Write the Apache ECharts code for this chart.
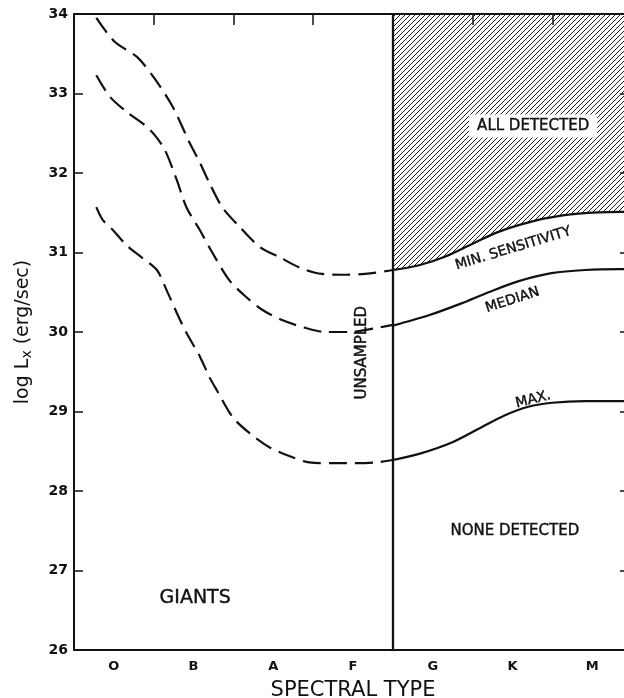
<!DOCTYPE html>
<html>
<head>
<meta charset="utf-8">
<script src="https://cdn.jsdelivr.net/npm/echarts@6/dist/echarts.min.js"></script>
<style>
  html, body { margin: 0; padding: 0; background: #fff; overflow: hidden; }
  #chart { width: 640px; height: 698px; }
</style>
</head>
<body>
<div id="chart"></div>
<script>
// Spectral classes along the bottom axis
const spectralTypes = ['O', 'B', 'A', 'F', 'G', 'K', 'M'];

// log Lx range and step (erg/sec)
const logLxMin = 26;
const logLxMax = 34;
const logLxStep = 1;

// Curves as [spectral position, log Lx]; position 0..7 spans O..M
// Giants (O–F): dashed, up to the G boundary
const minSensGiants = [
  [0.28, 33.95], [0.51, 33.65], [0.79, 33.46], [1.01, 33.19], [1.24, 32.83],
  [1.45, 32.38], [1.58, 32.13], [1.70, 31.87], [1.86, 31.57], [2.08, 31.32],
  [2.33, 31.07], [2.58, 30.94], [2.83, 30.81], [3.11, 30.73], [3.41, 30.72],
  [3.74, 30.74], [4.00, 30.78]
];
const medianGiants = [
  [0.28, 33.23], [0.45, 32.96], [0.66, 32.77], [0.89, 32.60], [1.01, 32.48],
  [1.14, 32.29], [1.29, 31.91], [1.41, 31.57], [1.58, 31.28], [1.74, 30.99],
  [1.95, 30.65], [2.16, 30.44], [2.36, 30.28], [2.61, 30.15], [2.91, 30.05],
  [3.16, 30.00], [3.45, 30.00], [3.79, 30.05], [4.00, 30.09]
];
const maxGiants = [
  [0.28, 31.57], [0.36, 31.41], [0.49, 31.28], [0.66, 31.09], [0.86, 30.93],
  [1.04, 30.78], [1.16, 30.53], [1.29, 30.24], [1.41, 29.99], [1.58, 29.69],
  [1.70, 29.43], [1.79, 29.27], [1.99, 28.93], [2.20, 28.73], [2.45, 28.55],
  [2.70, 28.44], [2.95, 28.36], [3.24, 28.35], [3.54, 28.35], [3.79, 28.36],
  [4.00, 28.39]
];
// G–M: solid
const minSensGKM = [
  [4.00, 30.78], [4.33, 30.84], [4.66, 30.95], [5.00, 31.11], [5.30, 31.25],
  [5.60, 31.35], [5.91, 31.43], [6.33, 31.49], [6.86, 31.51], [7.00, 31.51]
];
const medianGKM = [
  [4.00, 30.08], [4.45, 30.21], [4.86, 30.36], [5.20, 30.50], [5.58, 30.64],
  [5.99, 30.74], [6.41, 30.78], [6.86, 30.79], [7.00, 30.79]
];
const maxGKM = [
  [4.00, 28.39], [4.34, 28.47], [4.74, 28.61], [5.09, 28.79], [5.40, 28.95],
  [5.70, 29.06], [6.00, 29.11], [6.41, 29.13], [6.86, 29.13], [7.00, 29.13]
];
// Boundary between unsampled giants and the sampled G–M range
const sampledFrom = 4;

const ink = '#111';
const font = 'DejaVu Sans';

// Diagonal hatching for the "all detected" region
function hatchPattern() {
  const s = 5;
  const c = document.createElement('canvas');
  c.width = s; c.height = s;
  const g = c.getContext('2d');
  g.strokeStyle = '#1c1c1c';
  g.lineWidth = 1;
  g.beginPath();
  g.moveTo(0, s); g.lineTo(s, 0);
  g.moveTo(-1, 1); g.lineTo(1, -1);
  g.moveTo(s - 1, s + 1); g.lineTo(s + 1, s - 1);
  g.stroke();
  return c;
}

function curve(data, dashed, extra) {
  return Object.assign({
    type: 'line',
    xAxisIndex: 1,
    yAxisIndex: 0,
    data: data,
    smooth: 0.3,
    showSymbol: false,
    silent: true,
    lineStyle: { color: ink, width: 2.2, type: dashed ? [18, 8] : 'solid' },
    z: 5
  }, extra || {});
}

// Text annotations, placed in data coordinates
const notes = [
  { text: 'ALL DETECTED', at: [5.76, 32.59], rotate: 0, size: 15, box: true },
  { text: 'MIN. SENSITIVITY', at: [5.51, 31.05], rotate: 17, size: 14 },
  { text: 'MEDIAN', at: [5.50, 30.40], rotate: 18, size: 14 },
  { text: 'MAX.', at: [5.76, 29.15], rotate: 14, size: 14 },
  { text: 'UNSAMPLED', at: [3.61, 29.74], rotate: 90, size: 15 },
  { text: 'NONE DETECTED', at: [5.53, 27.50], rotate: 0, size: 15 },
  { text: 'GIANTS', at: [1.52, 26.65], rotate: 0, size: 19 }
];

const chart = echarts.init(document.getElementById('chart'), null, { renderer: 'canvas' });

const option = {
  animation: false,
  backgroundColor: '#fff',
  grid: { left: 74, right: 8, top: 14, bottom: 48, containLabel: false, outerBoundsMode: 'none' },
  xAxis: [
    {
      type: 'category',
      data: spectralTypes,
      position: 'bottom',
      boundaryGap: true,
      axisLine: { lineStyle: { color: ink, width: 2 } },
      axisTick: { inside: true, length: 11, lineStyle: { color: ink, width: 1.5 } },
      axisLabel: { margin: 10, fontFamily: font, fontWeight: 'bold', fontSize: 13, color: ink },
      splitLine: { show: false },
      name: 'SPECTRAL TYPE',
      nameLocation: 'middle',
      nameGap: 30,
      nameTextStyle: { fontFamily: font, fontSize: 21, color: ink }
    },
    {
      type: 'value',
      position: 'top',
      min: 0, max: 7, interval: 1,
      axisLine: { show: true, lineStyle: { color: ink, width: 2 } },
      axisTick: { show: true, inside: true, length: 11, lineStyle: { color: ink, width: 1.5 } },
      axisLabel: { show: false },
      splitLine: { show: false }
    }
  ],
  yAxis: [
    {
      type: 'value',
      position: 'left',
      min: logLxMin, max: logLxMax, interval: logLxStep,
      axisLine: { show: true, lineStyle: { color: ink, width: 2 } },
      axisTick: { show: true, inside: true, length: 9, lineStyle: { color: ink, width: 1.5 } },
      axisLabel: { margin: 6, fontFamily: font, fontWeight: 'bold', fontSize: 14, color: ink },
      splitLine: { show: false },
      name: '{a|log L}{s|x}{a| (erg/sec)}',
      nameLocation: 'middle',
      nameGap: 40,
      nameTextStyle: {
        rich: {
          a: { fontFamily: font, fontSize: 19, color: ink, lineHeight: 22 },
          s: { fontFamily: font, fontSize: 14, color: ink, lineHeight: 22, padding: [9, 0, 0, 0] }
        }
      }
    },
    {
      type: 'value',
      position: 'right',
      min: logLxMin, max: logLxMax, interval: logLxStep,
      axisLine: { show: true, lineStyle: { color: ink, width: 2 } },
      axisTick: { show: true, inside: true, length: 12, lineStyle: { color: ink, width: 1.5 } },
      axisLabel: { show: false },
      splitLine: { show: false }
    }
  ],
  series: [
    curve(minSensGiants, true),
    curve(medianGiants, true),
    curve(maxGiants, true),
    curve(minSensGKM, false, {
      areaStyle: { origin: 'end', color: { image: hatchPattern(), repeat: 'repeat' }, opacity: 1 },
      markLine: {
        silent: true,
        symbol: 'none',
        label: { show: false },
        lineStyle: { color: ink, width: 2.3, type: 'solid' },
        data: [{ xAxis: sampledFrom }]
      }
    }),
    curve(medianGKM, false),
    curve(maxGKM, false),
    {
      type: 'scatter',
      xAxisIndex: 1,
      yAxisIndex: 0,
      symbolSize: 0,
      silent: true,
      z: 10,
      itemStyle: { opacity: 1 },
      data: notes.map(n => ({
        value: n.at,
        label: {
          show: true,
          position: 'inside',
          formatter: n.text,
          rotate: n.rotate,
          fontFamily: font,
          fontSize: n.size,
          color: ink,
          opacity: 1,
          textBorderColor: ink,
          textBorderWidth: 0.4,
          backgroundColor: n.box ? '#fff' : 'transparent',
          padding: n.box ? [4, 8] : 0
        }
      }))
    }
  ]
};

chart.setOption(option);
</script>
</body>
</html>
